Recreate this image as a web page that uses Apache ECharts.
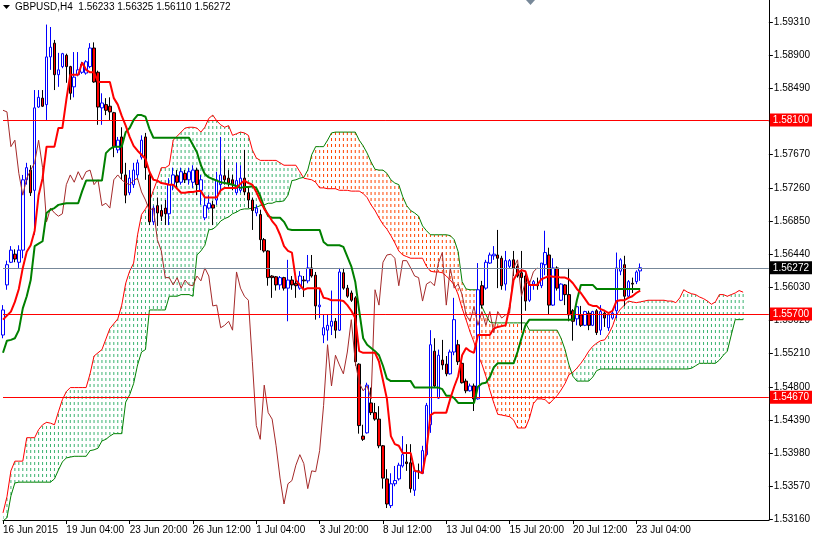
<!DOCTYPE html>
<html><head><meta charset="utf-8">
<script src="https://cdn.jsdelivr.net/npm/echarts@6/dist/echarts.min.js"></script>
<style>html,body{margin:0;padding:0;background:#fff}#c{width:813px;height:538px}</style>
</head><body><div id="c"></div>
<script>
const symbolName = 'GBPUSD,H4';
const headerValues = ['1.56233', '1.56325', '1.56110', '1.56272'];
const tickIdx = [0, 16, 32, 48, 64, 80, 96, 112, 128, 144, 160];
const tickLabels = ['16 Jun 2015', '19 Jun 04:00', '23 Jun 20:00', '26 Jun 12:00', '1 Jul 04:00', '3 Jul 20:00', '8 Jul 12:00', '13 Jul 04:00', '15 Jul 20:00', '20 Jul 12:00', '23 Jul 04:00'];
const priceTicks = [1.5316, 1.5357, 1.5398, 1.5439, 1.5480, 1.5521, 1.5562, 1.5603, 1.5644, 1.5685, 1.5726, 1.5767, 1.5808, 1.5849, 1.5890, 1.5931];
const levelLines = [1.5810, 1.5570, 1.5467];
const lastPrice = 1.56272;

// [open, close, low, high]
const candles = [
[1.5544,1.5575,1.5540,1.5581],[1.5606,1.5631,1.5600,1.5636],[1.5634,1.5649,1.5633,1.5654],[1.5644,1.5638,1.5634,1.5650],
[1.5634,1.5649,1.5627,1.5655],[1.5649,1.5736,1.5639,1.5742],[1.5736,1.5751,1.5730,1.5757],[1.5748,1.5720,1.5716,1.5754],
[1.5723,1.5825,1.5668,1.5847],[1.5826,1.5838,1.5825,1.5847],[1.5837,1.5827,1.5826,1.5847],[1.5829,1.5888,1.5810,1.5928],
[1.5888,1.5900,1.5872,1.5925],[1.5905,1.5866,1.5847,1.5909],[1.5866,1.5872,1.5851,1.5893],[1.5876,1.5892,1.5874,1.5893],
[1.5890,1.5876,1.5856,1.5892],[1.5876,1.5843,1.5835,1.5877],[1.5851,1.5863,1.5838,1.5894],[1.5866,1.5872,1.5864,1.5894],
[1.5869,1.5879,1.5867,1.5882],[1.5868,1.5882,1.5866,1.5884],[1.5876,1.5899,1.5874,1.5905],[1.5899,1.5857,1.5856,1.5906],
[1.5869,1.5826,1.5804,1.5871],[1.5825,1.5831,1.5804,1.5843],[1.5829,1.5822,1.5816,1.5837],[1.5827,1.5820,1.5810,1.5838],
[1.5819,1.5777,1.5764,1.5820],[1.5773,1.5785,1.5769,1.5789],[1.5789,1.5744,1.5736,1.5801],[1.5742,1.5717,1.5707,1.5757],
[1.5720,1.5738,1.5717,1.5748],[1.5730,1.5748,1.5726,1.5757],[1.5742,1.5757,1.5736,1.5761],[1.5764,1.5785,1.5761,1.5791],
[1.5789,1.5751,1.5736,1.5794],[1.5742,1.5684,1.5680,1.5748],[1.5684,1.5701,1.5680,1.5704],[1.5704,1.5695,1.5679,1.5714],
[1.5698,1.5691,1.5685,1.5705],[1.5701,1.5694,1.5680,1.5711],[1.5694,1.5730,1.5680,1.5738],[1.5730,1.5742,1.5723,1.5751],
[1.5741,1.5733,1.5726,1.5748],[1.5733,1.5746,1.5730,1.5751],[1.5744,1.5736,1.5732,1.5748],[1.5736,1.5746,1.5730,1.5751],
[1.5733,1.5748,1.5726,1.5754],[1.5748,1.5730,1.5717,1.5751],[1.5723,1.5736,1.5705,1.5742],[1.5689,1.5704,1.5686,1.5717],
[1.5701,1.5707,1.5699,1.5717],[1.5705,1.5701,1.5680,1.5710],[1.5711,1.5736,1.5705,1.5746],[1.5730,1.5742,1.5723,1.5789],
[1.5741,1.5736,1.5730,1.5761],[1.5738,1.5732,1.5728,1.5748],[1.5736,1.5730,1.5723,1.5742],[1.5720,1.5735,1.5717,1.5757],
[1.5723,1.5738,1.5720,1.5754],[1.5738,1.5721,1.5717,1.5773],[1.5720,1.5711,1.5701,1.5726],[1.5711,1.5698,1.5674,1.5714],
[1.5695,1.5701,1.5691,1.5705],[1.5693,1.5662,1.5649,1.5699],[1.5662,1.5648,1.5646,1.5664],[1.5648,1.5615,1.5605,1.5649],
[1.5617,1.5615,1.5590,1.5618],[1.5616,1.5606,1.5599,1.5617],[1.5606,1.5615,1.5600,1.5617],[1.5615,1.5602,1.5599,1.5616],
[1.5602,1.5612,1.5561,1.5637],[1.5612,1.5606,1.5600,1.5617],[1.5608,1.5605,1.5590,1.5615],[1.5602,1.5617,1.5600,1.5623],
[1.5612,1.5611,1.5591,1.5617],[1.5611,1.5627,1.5608,1.5643],[1.5627,1.5617,1.5615,1.5643],[1.5618,1.5580,1.5563,1.5622],
[1.5579,1.5581,1.5565,1.5602],[1.5544,1.5553,1.5534,1.5569],[1.5550,1.5556,1.5537,1.5569],[1.5555,1.5561,1.5544,1.5599],
[1.5561,1.5550,1.5540,1.5565],[1.5550,1.5622,1.5549,1.5627],[1.5621,1.5602,1.5600,1.5627],[1.5602,1.5592,1.5590,1.5606],
[1.5596,1.5587,1.5585,1.5599],[1.5590,1.5511,1.5506,1.5592],[1.5508,1.5432,1.5422,1.5509],[1.5419,1.5415,1.5413,1.5433],
[1.5423,1.5482,1.5422,1.5485],[1.5460,1.5448,1.5445,1.5479],[1.5448,1.5440,1.5438,1.5460],[1.5440,1.5407,1.5404,1.5456],
[1.5407,1.5367,1.5354,1.5408],[1.5366,1.5335,1.5330,1.5378],[1.5333,1.5360,1.5330,1.5373],[1.5360,1.5364,1.5357,1.5382],
[1.5366,1.5383,1.5364,1.5386],[1.5382,1.5396,1.5380,1.5419],[1.5387,1.5385,1.5376,1.5409],[1.5386,1.5354,1.5349,1.5409],
[1.5352,1.5376,1.5345,1.5376],[1.5376,1.5375,1.5366,1.5385],[1.5373,1.5401,1.5372,1.5407],[1.5396,1.5457,1.5394,1.5460],
[1.5433,1.5532,1.5423,1.5550],[1.5524,1.5481,1.5479,1.5540],[1.5466,1.5519,1.5465,1.5526],[1.5513,1.5507,1.5501,1.5538],
[1.5508,1.5496,1.5493,1.5518],[1.5496,1.5523,1.5495,1.5526],[1.5523,1.5563,1.5519,1.5590],[1.5532,1.5511,1.5507,1.5538],
[1.5509,1.5485,1.5484,1.5518],[1.5487,1.5475,1.5472,1.5490],[1.5475,1.5481,1.5474,1.5484],[1.5481,1.5465,1.5450,1.5484],
[1.5465,1.5600,1.5464,1.5633],[1.5605,1.5581,1.5577,1.5611],[1.5602,1.5634,1.5600,1.5637],[1.5633,1.5643,1.5632,1.5646],
[1.5642,1.5644,1.5637,1.5654],[1.5643,1.5639,1.5602,1.5674],[1.5639,1.5605,1.5600,1.5642],[1.5607,1.5636,1.5599,1.5648],
[1.5629,1.5636,1.5627,1.5638],[1.5637,1.5627,1.5617,1.5648],[1.5629,1.5617,1.5615,1.5632],[1.5621,1.5615,1.5550,1.5648],
[1.5617,1.5586,1.5574,1.5623],[1.5587,1.5607,1.5585,1.5611],[1.5607,1.5610,1.5600,1.5612],[1.5607,1.5605,1.5600,1.5615],
[1.5605,1.5633,1.5602,1.5633],[1.5631,1.5646,1.5618,1.5673],[1.5643,1.5581,1.5569,1.5652],[1.5581,1.5627,1.5580,1.5639],
[1.5627,1.5602,1.5599,1.5629],[1.5587,1.5607,1.5586,1.5608],[1.5606,1.5594,1.5581,1.5607],[1.5594,1.5569,1.5561,1.5627],
[1.5574,1.5561,1.5537,1.5576],[1.5564,1.5579,1.5556,1.5580],[1.5569,1.5556,1.5554,1.5580],[1.5556,1.5573,1.5555,1.5574],
[1.5571,1.5556,1.5550,1.5574],[1.5556,1.5573,1.5555,1.5574],[1.5574,1.5547,1.5544,1.5576],[1.5550,1.5573,1.5544,1.5581],
[1.5571,1.5565,1.5554,1.5574],[1.5553,1.5569,1.5549,1.5571],[1.5565,1.5571,1.5563,1.5574],[1.5574,1.5627,1.5565,1.5646],
[1.5623,1.5637,1.5618,1.5639],[1.5631,1.5592,1.5580,1.5642],[1.5592,1.5610,1.5590,1.5612],[1.5608,1.5607,1.5596,1.5615],
[1.5610,1.5622,1.5607,1.5624],[1.56233,1.56272,1.56110,1.56325]
];

const tenkan = [
1.5563,1.5568,1.5573,1.5585,1.5601,1.5627,1.5647,1.5655,1.5673,1.5717,
1.5738,1.5777,1.5777,1.5777,1.5800,1.5800,1.5835,1.5866,1.5866,1.5866,
1.5881,1.5872,1.5869,1.5869,1.5857,1.5857,1.5857,1.5857,1.5837,1.5829,
1.5815,1.5803,1.5789,1.5778,1.5772,1.5767,1.5762,1.5746,1.5736,1.5735,
1.5732,1.5731,1.5730,1.5730,1.5725,1.5720,1.5720,1.5721,1.5721,1.5722,
1.5722,1.5714,1.5714,1.5714,1.5714,1.5723,1.5726,1.5726,1.5726,1.5726,
1.5731,1.5735,1.5732,1.5730,1.5721,1.5710,1.5700,1.5693,1.5685,1.5679,
1.5668,1.5654,1.5648,1.5646,1.5612,1.5606,1.5600,1.5602,1.5602,1.5602,
1.5602,1.5590,1.5589,1.5587,1.5587,1.5587,1.5586,1.5581,1.5574,1.5565,
1.5524,1.5522,1.5522,1.5522,1.5522,1.5511,1.5488,1.5465,1.5419,1.5409,
1.5407,1.5398,1.5398,1.5398,1.5376,1.5375,1.5373,1.5402,1.5445,1.5448,
1.5448,1.5448,1.5448,1.5465,1.5480,1.5493,1.5519,1.5528,1.5524,1.5522,
1.5544,1.5544,1.5544,1.5544,1.5552,1.5554,1.5555,1.5556,1.5579,1.5612,
1.5621,1.5624,1.5623,1.5606,1.5606,1.5606,1.5613,1.5615,1.5617,1.5616,
1.5616,1.5615,1.5615,1.5613,1.5608,1.5601,1.5596,1.5589,1.5582,1.5580,
1.5580,1.5576,1.5574,1.5571,1.5574,1.5586,1.5587,1.5587,1.5590,1.5592,
1.5596,1.5599
];

const kijun = [
1.5522,1.5537,1.5538,1.5540,1.5550,1.5577,1.5592,1.5612,1.5654,1.5657,
1.5660,1.5695,1.5699,1.5701,1.5705,1.5706,1.5707,1.5707,1.5707,1.5707,
1.5722,1.5735,1.5735,1.5735,1.5735,1.5735,1.5769,1.5774,1.5777,1.5777,
1.5777,1.5795,1.5800,1.5810,1.5816,1.5816,1.5814,1.5799,1.5788,1.5788,
1.5788,1.5788,1.5788,1.5788,1.5788,1.5788,1.5788,1.5788,1.5779,1.5770,
1.5754,1.5743,1.5739,1.5737,1.5735,1.5733,1.5732,1.5731,1.5730,1.5728,
1.5726,1.5727,1.5727,1.5728,1.5726,1.5716,1.5702,1.5691,1.5689,1.5689,
1.5689,1.5684,1.5675,1.5674,1.5674,1.5674,1.5674,1.5674,1.5674,1.5674,
1.5674,1.5659,1.5655,1.5655,1.5655,1.5655,1.5653,1.5641,1.5629,1.5610,
1.5574,1.5540,1.5532,1.5528,1.5524,1.5519,1.5506,1.5490,1.5487,1.5487,
1.5487,1.5487,1.5487,1.5487,1.5479,1.5479,1.5479,1.5479,1.5479,1.5479,
1.5479,1.5477,1.5469,1.5469,1.5466,1.5460,1.5460,1.5460,1.5460,1.5460,
1.5480,1.5484,1.5485,1.5492,1.5504,1.5509,1.5509,1.5509,1.5509,1.5509,
1.5523,1.5540,1.5556,1.5563,1.5563,1.5563,1.5563,1.5563,1.5563,1.5563,
1.5563,1.5563,1.5563,1.5563,1.5563,1.5587,1.5606,1.5606,1.5606,1.5606,
1.5601,1.5601,1.5601,1.5601,1.5601,1.5601,1.5601,1.5601,1.5601,1.5601,
1.5601,1.5601
];

const chikou = [
1.5822,1.5820,1.5777,1.5785,1.5744,1.5717,1.5738,1.5748,1.5757,1.5785,
1.5751,1.5684,1.5701,1.5695,1.5691,1.5694,1.5730,1.5742,1.5733,1.5746,
1.5736,1.5746,1.5748,1.5730,1.5736,1.5704,1.5707,1.5701,1.5736,1.5742,
1.5736,1.5732,1.5730,1.5735,1.5738,1.5721,1.5711,1.5698,1.5701,1.5662,
1.5648,1.5615,1.5615,1.5606,1.5615,1.5602,1.5612,1.5606,1.5605,1.5617,
1.5611,1.5627,1.5617,1.5580,1.5581,1.5553,1.5556,1.5561,1.5550,1.5622,
1.5602,1.5592,1.5587,1.5511,1.5432,1.5415,1.5482,1.5448,1.5440,1.5407,
1.5367,1.5335,1.5360,1.5364,1.5383,1.5396,1.5385,1.5354,1.5376,1.5375,
1.5401,1.5457,1.5532,1.5481,1.5519,1.5507,1.5496,1.5523,1.5563,1.5511,
1.5485,1.5475,1.5481,1.5465,1.5600,1.5581,1.5634,1.5643,1.5644,1.5639,
1.5605,1.5636,1.5636,1.5627,1.5617,1.5615,1.5586,1.5607,1.5610,1.5605,
1.5633,1.5646,1.5581,1.5627,1.5602,1.5607,1.5594,1.5569,1.5561,1.5579,
1.5556,1.5573,1.5556,1.5573,1.5547,1.5573,1.5565,1.5569,1.5571,1.5627,
1.5637,1.5592,1.5610,1.5607,1.5622,1.56272
];

const spanA = [
1.5324,1.5344,1.5376,1.5388,1.5388,1.5388,1.5417,1.5417,1.5417,1.5427,
1.5433,1.5436,1.5435,1.5433,1.5449,1.5464,1.5474,1.5479,1.5479,1.5479,
1.5479,1.5479,1.5496,1.5518,1.5522,1.5526,1.5539,1.5552,1.5558,1.5564,
1.5581,1.5608,1.5623,1.5633,1.5668,1.5693,1.5700,1.5709,1.5723,1.5736,
1.5751,1.5751,1.5754,1.5785,1.5790,1.5795,1.5800,1.5801,1.5801,1.5800,
1.5795,1.5801,1.5812,1.5816,1.5809,1.5804,1.5801,1.5803,1.5791,1.5793,
1.5795,1.5794,1.5791,1.5773,1.5763,1.5760,1.5760,1.5760,1.5760,1.5760,
1.5757,1.5754,1.5754,1.5754,1.5754,1.5746,1.5738,1.5737,1.5736,1.5733,
1.5726,1.5726,1.5725,1.5725,1.5725,1.5723,1.5723,1.5723,1.5722,1.5722,
1.5722,1.5719,1.5714,1.5705,1.5698,1.5689,1.5681,1.5675,1.5667,1.5658,
1.5648,1.5643,1.5641,1.5639,1.5639,1.5639,1.5639,1.5629,1.5623,1.5622,
1.5622,1.5621,1.5617,1.5612,1.5606,1.5594,1.5577,1.5563,1.5548,1.5535,
1.5519,1.5508,1.5493,1.5476,1.5460,1.5446,1.5445,1.5444,1.5443,1.5439,
1.5429,1.5429,1.5429,1.5441,1.5459,1.5465,1.5465,1.5464,1.5459,1.5464,
1.5469,1.5476,1.5484,1.5495,1.5498,1.5503,1.5509,1.5516,1.5524,1.5530,
1.5534,1.5537,1.5538,1.5545,1.5555,1.5569,1.5576,1.5581,1.5586,1.5585,
1.5584,1.5585,1.5586,1.5587,1.5587,1.5587,1.5587,1.5587,1.5586,1.5586,
1.5584,1.5590,1.5600,1.5597,1.5595,1.5594,1.5591,1.5589,1.5586,1.5582,
1.5585,1.5594,1.5594,1.5592,1.5594,1.5596,1.5599,1.5597
];

const spanB = [
1.5314,1.5318,1.5345,1.5361,1.5362,1.5362,1.5362,1.5362,1.5362,1.5362,
1.5362,1.5362,1.5362,1.5366,1.5377,1.5387,1.5392,1.5393,1.5394,1.5394,
1.5394,1.5394,1.5401,1.5402,1.5404,1.5413,1.5415,1.5419,1.5422,1.5422,
1.5422,1.5461,1.5470,1.5484,1.5507,1.5523,1.5526,1.5575,1.5575,1.5575,
1.5575,1.5575,1.5592,1.5592,1.5592,1.5594,1.5594,1.5594,1.5592,1.5643,
1.5648,1.5655,1.5674,1.5675,1.5679,1.5685,1.5688,1.5690,1.5694,1.5696,
1.5699,1.5700,1.5700,1.5701,1.5702,1.5704,1.5705,1.5707,1.5707,1.5709,
1.5709,1.5710,1.5717,1.5735,1.5736,1.5738,1.5739,1.5748,1.5767,1.5777,
1.5777,1.5777,1.5785,1.5794,1.5795,1.5795,1.5795,1.5795,1.5795,1.5795,
1.5785,1.5778,1.5769,1.5758,1.5749,1.5748,1.5748,1.5744,1.5736,1.5732,
1.5730,1.5715,1.5704,1.5698,1.5695,1.5691,1.5679,1.5673,1.5668,1.5668,
1.5668,1.5668,1.5668,1.5667,1.5662,1.5647,1.5610,1.5601,1.5600,1.5600,
1.5600,1.5579,1.5569,1.5560,1.5559,1.5559,1.5559,1.5559,1.5559,1.5559,
1.5559,1.5559,1.5559,1.5550,1.5550,1.5550,1.5550,1.5550,1.5550,1.5550,
1.5550,1.5540,1.5526,1.5507,1.5493,1.5487,1.5487,1.5487,1.5487,1.5492,
1.5500,1.5502,1.5502,1.5502,1.5502,1.5502,1.5502,1.5502,1.5502,1.5502,
1.5502,1.5502,1.5502,1.5502,1.5502,1.5502,1.5502,1.5502,1.5502,1.5502,
1.5502,1.5502,1.5502,1.5502,1.5503,1.5506,1.5509,1.5509,1.5509,1.5509,
1.5509,1.5513,1.5519,1.5524,1.5544,1.5563,1.5563,1.5563
];

const FONT = '"Liberation Sans"';
const FS = 10;
const chart = echarts.init(document.getElementById('c'), null, { renderer: 'canvas' });

const idx = (arr) => arr.map((v, i) => [i, v]);
const cloudData = spanA.map((a, i) => [i, a, spanB[i]]);

const option = {
  animation: false,
  backgroundColor: '#ffffff',
  grid: { left: 0.5, top: 0, width: 774, height: 520, containLabel: false },
  xAxis: {
    type: 'value', min: 0, max: 193.5,
    axisLine: { show: true, onZero: false, lineStyle: { color: '#000', width: 1 } },
    axisTick: { show: true, customValues: tickIdx, length: 4, lineStyle: { color: '#000' } },
    axisLabel: {
      customValues: tickIdx,
      formatter: (v) => tickLabels[tickIdx.indexOf(v)],
      align: 'left', margin: 5, color: '#000', fontFamily: FONT, fontSize: FS
    },
    splitLine: { show: false }
  },
  yAxis: {
    type: 'value', position: 'right', min: 1.53152, max: 1.59584,
    axisLine: { show: true, onZero: false, lineStyle: { color: '#000', width: 1 } },
    axisTick: { show: true, customValues: priceTicks, length: 4, lineStyle: { color: '#000' } },
    axisLabel: {
      customValues: priceTicks,
      formatter: (v) => v.toFixed(5),
      margin: 5, color: '#000', fontFamily: FONT, fontSize: FS
    },
    splitLine: { show: false }
  },
  series: [
    {
      name: 'cloud', type: 'custom', z: 1, silent: true, clip: true,
      encode: { x: 0, y: [1, 2] },
      data: cloudData,
      renderItem: (params, api) => {
        const i = api.value(0), a = api.value(1), b = api.value(2);
        const p1 = api.coord([i, a]);
        const p2 = api.coord([i, b]);
        const top = Math.min(p1[1], p2[1]);
        const bot = Math.max(p1[1], p2[1]);
        return {
          type: 'line',
          shape: { x1: p1[0], y1: top, x2: p1[0], y2: bot },
          style: {
            stroke: a >= b ? '#3cb371' : '#ff4500',
            lineWidth: 1, lineDash: [3, 3], lineDashOffset: top % 6
          }
        };
      }
    },
    { name: 'SpanA', type: 'line', z: 2, data: idx(spanA), showSymbol: false, symbol: 'none', silent: true,
      lineStyle: { color: '#ff0000', width: 1 } },
    { name: 'SpanB', type: 'line', z: 2, data: idx(spanB), showSymbol: false, symbol: 'none', silent: true,
      lineStyle: { color: '#008000', width: 1 } },
    {
      name: 'price', type: 'candlestick', z: 3, silent: true,
      encode: { x: 0, y: [1, 2, 3, 4] },
      data: candles.map((c, i) => [i, c[0], c[1], c[2], c[3]]),
      barWidth: 3,
      itemStyle: { color: '#ffffff', color0: '#ff0000', borderColor: '#0000ff', borderColor0: '#000000', borderWidth: 1 }
    },
    { name: 'Chikou', type: 'line', z: 4, data: idx(chikou), showSymbol: false, symbol: 'none', silent: true,
      lineStyle: { color: '#a52a2a', width: 1 } },
    { name: 'Kijun', type: 'line', z: 5, data: idx(kijun), showSymbol: false, symbol: 'none', silent: true,
      lineStyle: { color: '#008000', width: 2 } },
    { name: 'Tenkan', type: 'line', z: 6, data: idx(tenkan), showSymbol: false, symbol: 'none', silent: true,
      lineStyle: { color: '#ff0000', width: 2 },
      markLine: {
        silent: true, symbol: ['none', 'none'], animation: false, precision: 5,
        data: levelLines.map((v) => ({
          yAxis: v,
          lineStyle: { color: '#ff0000', width: 1, type: 'solid' },
          label: { show: true, position: 'end', distance: 1, formatter: v.toFixed(5),
            backgroundColor: '#ff0000', color: '#ffffff', padding: [2, 3, 1, 3], fontFamily: FONT, fontSize: FS }
        })).concat([{
          yAxis: lastPrice,
          lineStyle: { color: '#778899', width: 1, type: 'solid' },
          label: { show: true, position: 'end', distance: 1, formatter: lastPrice.toFixed(5),
            backgroundColor: '#000000', color: '#ffffff', padding: [2, 3, 1, 3], fontFamily: FONT, fontSize: FS }
        }])
      }
    }
  ],
  graphic: [
    { type: 'polygon', shape: { points: [[3, 5], [10, 5], [6.5, 9]] }, style: { fill: '#000' }, z: 100 },
    { type: 'text', left: 15, top: 2, z: 100,
      style: { text: symbolName + '  ' + headerValues.join(' '), font: FS + 'px ' + FONT, fill: '#000' } },
    { type: 'polygon', shape: { points: [[526, 0], [535, 0], [530.5, 5]] }, style: { fill: '#778899' }, z: 100 }
  ]
};
chart.setOption(option);
</script>
</body></html>
